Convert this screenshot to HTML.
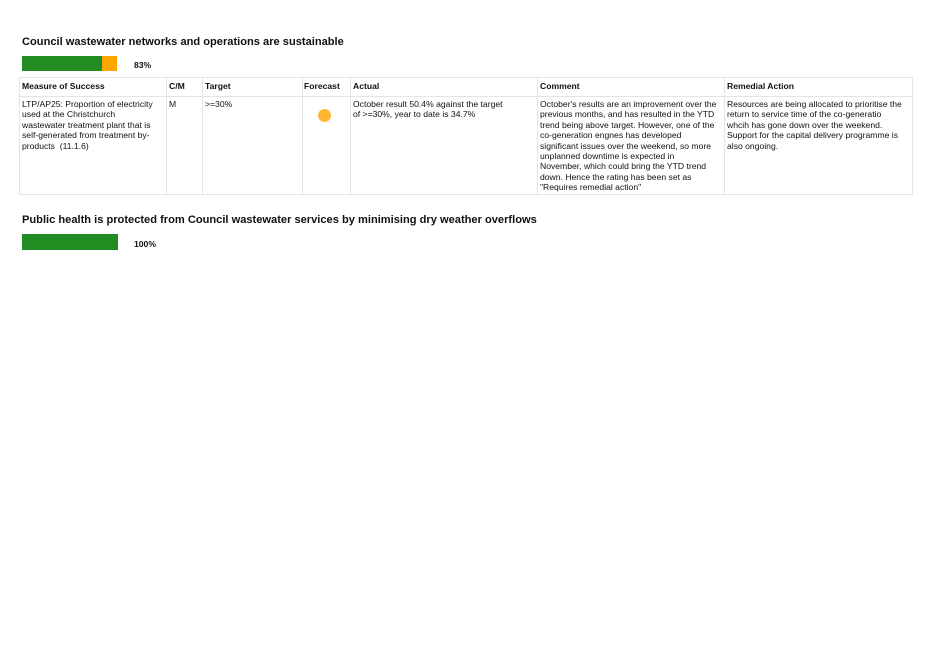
<!DOCTYPE html>
<html><head><meta charset="utf-8"><style>
body{margin:0;width:934px;height:661px;background:#fff;position:relative;font-family:"Liberation Sans",Arial,sans-serif;color:#111;overflow:hidden}
.a{position:absolute;white-space:nowrap}
.h{font-weight:bold;font-size:11.1px}
.p{font-weight:bold;font-size:8.6px}
.t{font-size:8.6px;line-height:10.4px}
.b{position:absolute;top:0;bottom:0;border-left:1px solid #e4e4e4}
</style></head><body>
<div class="a h" style="left:22px;top:36px">Council wastewater networks and operations are sustainable</div>
<div class="a" style="left:22px;top:56px;width:80px;height:15px;background:#228b22"></div>
<div class="a" style="left:102px;top:56px;width:15px;height:15px;background:#ffa500"></div>
<div class="a p" style="left:134px;top:60px">83%</div>

<div class="a" style="left:19px;top:77px;width:894px;height:118px;border:1px solid #e4e4e4;box-sizing:border-box">
 <div style="position:absolute;left:0;right:0;top:18px;border-top:1px solid #e4e4e4"></div>
 <div class="b" style="left:146px"></div><div class="b" style="left:182px"></div><div class="b" style="left:282px"></div><div class="b" style="left:330px"></div><div class="b" style="left:517px"></div><div class="b" style="left:704px"></div>
</div>
<div class="a p" style="left:22px;top:81px">Measure of Success</div>
<div class="a p" style="left:169px;top:81px">C/M</div>
<div class="a p" style="left:205px;top:81px">Target</div>
<div class="a p" style="left:304px;top:81px">Forecast</div>
<div class="a p" style="left:353px;top:81px">Actual</div>
<div class="a p" style="left:540px;top:81px">Comment</div>
<div class="a p" style="left:727px;top:81px">Remedial Action</div>

<div class="a t" style="left:22px;top:99px">LTP/AP25: Proportion of electricity<br>used at the Christchurch<br>wastewater treatment plant that is<br>self-generated from treatment by-<br>products&nbsp; (11.1.6)</div>
<div class="a t" style="left:169px;top:99px">M</div>
<div class="a t" style="left:205px;top:99px">&gt;=30%</div>
<div class="a" style="left:318px;top:109px;width:13px;height:13px;border-radius:50%;background:#ffb733"></div>
<div class="a t" style="left:353px;top:99px">October result 50.4% against the target<br>of &gt;=30%, year to date is 34.7%</div>
<div class="a t" style="left:540px;top:99px">October's results are an improvement over the<br>previous months, and has resulted in the YTD<br>trend being above target. However, one of the<br>co-generation engnes has developed<br>significant issues over the weekend, so more<br>unplanned downtime is expected in<br>November, which could bring the YTD trend<br>down. Hence the rating has been set as<br>"Requires remedial action"</div>
<div class="a t" style="left:727px;top:99px">Resources are being allocated to prioritise the<br>return to service time of the co-generatio<br>whcih has gone down over the weekend.<br>Support for the capital delivery programme is<br>also ongoing.</div>

<div class="a h" style="left:22px;top:214px">Public health is protected from Council wastewater services by minimising dry weather overflows</div>
<div class="a" style="left:22px;top:234px;width:96px;height:16px;background:#228b22"></div>
<div class="a p" style="left:134px;top:239px">100%</div>
</body></html>
